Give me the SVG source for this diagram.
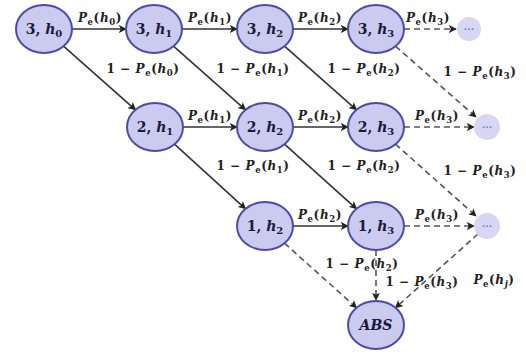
<svg xmlns="http://www.w3.org/2000/svg" width="526" height="354" viewBox="0 0 526 354">
<style>
.node ellipse{fill:#cbcbef;stroke:#4b4ba8;stroke-width:2}
.dots circle{fill:#d6d6f5}
.dots text{font-family:"DejaVu Serif",serif;font-size:10px;font-weight:bold;fill:#7a7ac8;text-anchor:middle}
.nl{font-family:"DejaVu Serif",serif;font-size:14px;font-weight:bold;fill:#1a1a3a;text-anchor:middle}
.el{font-family:"DejaVu Serif",serif;font-size:12px;font-weight:bold;fill:#222;text-anchor:middle;letter-spacing:0.6px}
.i{font-style:italic}
.s{font-size:8.5px}
.solid{stroke:#333;stroke-width:1.6;fill:none;marker-end:url(#ah)}
.dash{stroke:#555;stroke-width:1.6;fill:none;stroke-dasharray:6 4;marker-end:url(#ah)}
</style>
<defs>
<marker id="ah" viewBox="0 0 10 10" refX="9" refY="5" markerWidth="8" markerHeight="8" markerUnits="userSpaceOnUse" orient="auto">
<path d="M0,0 L10,5 L0,10 L2.5,5 z" fill="#222"/>
</marker>
</defs>
<rect width="526" height="354" fill="#ffffff"/>
<g id="connectors">
<line class="solid" x1="72" y1="29" x2="126" y2="29"/>
<line class="solid" x1="182" y1="29" x2="237" y2="29"/>
<line class="solid" x1="293" y1="29" x2="348" y2="29"/>
<line class="dash" x1="404" y1="29" x2="456" y2="29"/>
<line class="solid" x1="183" y1="127" x2="237" y2="127"/>
<line class="solid" x1="293" y1="127" x2="348" y2="127"/>
<line class="dash" x1="404" y1="127" x2="474" y2="127"/>
<line class="solid" x1="293" y1="226" x2="348" y2="226"/>
<line class="dash" x1="404" y1="226" x2="474" y2="226"/>
<line class="solid" x1="63.5" y1="46.2" x2="135.5" y2="109.8"/>
<line class="solid" x1="173.5" y1="46.2" x2="245.5" y2="109.8"/>
<line class="solid" x1="284.5" y1="46.2" x2="356.5" y2="109.8"/>
<line class="dash" x1="395.5" y1="46.2" x2="476" y2="117"/>
<line class="solid" x1="174.5" y1="144.2" x2="245.5" y2="208.8"/>
<line class="solid" x1="284.5" y1="144.2" x2="356.5" y2="208.8"/>
<line class="dash" x1="395.5" y1="144.2" x2="476" y2="216"/>
<line class="dash" x1="284.5" y1="243.2" x2="356.5" y2="307.8"/>
<line class="dash" x1="376" y1="250" x2="376" y2="300"/>
<line class="dash" x1="478" y1="234" x2="395.5" y2="307.8"/>
</g>
<g id="labels">
<text class="el" x="100" y="22"><tspan class="i">P</tspan><tspan class="s" dy="2.5">e</tspan><tspan dy="-2.5">(</tspan><tspan class="i">h</tspan><tspan class="s" dy="2.5">0</tspan><tspan dy="-2.5">)</tspan></text>
<text class="el" x="210" y="22"><tspan class="i">P</tspan><tspan class="s" dy="2.5">e</tspan><tspan dy="-2.5">(</tspan><tspan class="i">h</tspan><tspan class="s" dy="2.5">1</tspan><tspan dy="-2.5">)</tspan></text>
<text class="el" x="320" y="22"><tspan class="i">P</tspan><tspan class="s" dy="2.5">e</tspan><tspan dy="-2.5">(</tspan><tspan class="i">h</tspan><tspan class="s" dy="2.5">2</tspan><tspan dy="-2.5">)</tspan></text>
<text class="el" x="428" y="22"><tspan class="i">P</tspan><tspan class="s" dy="2.5">e</tspan><tspan dy="-2.5">(</tspan><tspan class="i">h</tspan><tspan class="s" dy="2.5">3</tspan><tspan dy="-2.5">)</tspan></text>
<text class="el" x="210" y="120"><tspan class="i">P</tspan><tspan class="s" dy="2.5">e</tspan><tspan dy="-2.5">(</tspan><tspan class="i">h</tspan><tspan class="s" dy="2.5">1</tspan><tspan dy="-2.5">)</tspan></text>
<text class="el" x="320" y="120"><tspan class="i">P</tspan><tspan class="s" dy="2.5">e</tspan><tspan dy="-2.5">(</tspan><tspan class="i">h</tspan><tspan class="s" dy="2.5">2</tspan><tspan dy="-2.5">)</tspan></text>
<text class="el" x="437" y="120"><tspan class="i">P</tspan><tspan class="s" dy="2.5">e</tspan><tspan dy="-2.5">(</tspan><tspan class="i">h</tspan><tspan class="s" dy="2.5">3</tspan><tspan dy="-2.5">)</tspan></text>
<text class="el" x="320" y="219"><tspan class="i">P</tspan><tspan class="s" dy="2.5">e</tspan><tspan dy="-2.5">(</tspan><tspan class="i">h</tspan><tspan class="s" dy="2.5">2</tspan><tspan dy="-2.5">)</tspan></text>
<text class="el" x="437" y="219"><tspan class="i">P</tspan><tspan class="s" dy="2.5">e</tspan><tspan dy="-2.5">(</tspan><tspan class="i">h</tspan><tspan class="s" dy="2.5">3</tspan><tspan dy="-2.5">)</tspan></text>
<text class="el" x="143" y="73">1 − <tspan class="i">P</tspan><tspan class="s" dy="2.5">e</tspan><tspan dy="-2.5">(</tspan><tspan class="i">h</tspan><tspan class="s" dy="2.5">0</tspan><tspan dy="-2.5">)</tspan></text>
<text class="el" x="253" y="73">1 − <tspan class="i">P</tspan><tspan class="s" dy="2.5">e</tspan><tspan dy="-2.5">(</tspan><tspan class="i">h</tspan><tspan class="s" dy="2.5">1</tspan><tspan dy="-2.5">)</tspan></text>
<text class="el" x="364" y="73">1 − <tspan class="i">P</tspan><tspan class="s" dy="2.5">e</tspan><tspan dy="-2.5">(</tspan><tspan class="i">h</tspan><tspan class="s" dy="2.5">2</tspan><tspan dy="-2.5">)</tspan></text>
<text class="el" x="480" y="76">1 − <tspan class="i">P</tspan><tspan class="s" dy="2.5">e</tspan><tspan dy="-2.5">(</tspan><tspan class="i">h</tspan><tspan class="s" dy="2.5">3</tspan><tspan dy="-2.5">)</tspan></text>
<text class="el" x="253" y="170">1 − <tspan class="i">P</tspan><tspan class="s" dy="2.5">e</tspan><tspan dy="-2.5">(</tspan><tspan class="i">h</tspan><tspan class="s" dy="2.5">1</tspan><tspan dy="-2.5">)</tspan></text>
<text class="el" x="364" y="170">1 − <tspan class="i">P</tspan><tspan class="s" dy="2.5">e</tspan><tspan dy="-2.5">(</tspan><tspan class="i">h</tspan><tspan class="s" dy="2.5">2</tspan><tspan dy="-2.5">)</tspan></text>
<text class="el" x="480" y="175">1 − <tspan class="i">P</tspan><tspan class="s" dy="2.5">e</tspan><tspan dy="-2.5">(</tspan><tspan class="i">h</tspan><tspan class="s" dy="2.5">3</tspan><tspan dy="-2.5">)</tspan></text>
<text class="el" x="362" y="268">1 − <tspan class="i">P</tspan><tspan class="s" dy="2.5">e</tspan><tspan dy="-2.5">(</tspan><tspan class="i">h</tspan><tspan class="s" dy="2.5">2</tspan><tspan dy="-2.5">)</tspan></text>
<text class="el" x="422" y="286">1 − <tspan class="i">P</tspan><tspan class="s" dy="2.5">e</tspan><tspan dy="-2.5">(</tspan><tspan class="i">h</tspan><tspan class="s" dy="2.5">3</tspan><tspan dy="-2.5">)</tspan></text>
<text class="el" x="494" y="284"><tspan class="i">P</tspan><tspan class="s" dy="2.5">e</tspan><tspan dy="-2.5">(</tspan><tspan class="i">h</tspan><tspan class="s i" dy="2.5">j</tspan><tspan dy="-2.5">)</tspan></text>
</g>
<g id="n3h0" class="node"><ellipse cx="44" cy="29" rx="28" ry="24"/><text class="nl" x="44" y="34">3, <tspan class="i">h</tspan><tspan font-size="10" dy="3">0</tspan></text></g>
<g id="n3h1" class="node"><ellipse cx="154" cy="29" rx="28" ry="24"/><text class="nl" x="154" y="34">3, <tspan class="i">h</tspan><tspan font-size="10" dy="3">1</tspan></text></g>
<g id="n3h2" class="node"><ellipse cx="265" cy="29" rx="28" ry="24"/><text class="nl" x="265" y="34">3, <tspan class="i">h</tspan><tspan font-size="10" dy="3">2</tspan></text></g>
<g id="n3h3" class="node"><ellipse cx="376" cy="29" rx="28" ry="24"/><text class="nl" x="376" y="34">3, <tspan class="i">h</tspan><tspan font-size="10" dy="3">3</tspan></text></g>
<g id="d1" class="dots"><circle cx="469" cy="29" r="12"/><text x="469" y="32">···</text></g>
<g id="n2h1" class="node"><ellipse cx="155" cy="127" rx="28" ry="24"/><text class="nl" x="155" y="132">2, <tspan class="i">h</tspan><tspan font-size="10" dy="3">1</tspan></text></g>
<g id="n2h2" class="node"><ellipse cx="265" cy="127" rx="28" ry="24"/><text class="nl" x="265" y="132">2, <tspan class="i">h</tspan><tspan font-size="10" dy="3">2</tspan></text></g>
<g id="n2h3" class="node"><ellipse cx="376" cy="127" rx="28" ry="24"/><text class="nl" x="376" y="132">2, <tspan class="i">h</tspan><tspan font-size="10" dy="3">3</tspan></text></g>
<g id="d2" class="dots"><circle cx="487" cy="127" r="13"/><text x="487" y="130">···</text></g>
<g id="n1h2" class="node"><ellipse cx="265" cy="226" rx="28" ry="24"/><text class="nl" x="265" y="231">1, <tspan class="i">h</tspan><tspan font-size="10" dy="3">2</tspan></text></g>
<g id="n1h3" class="node"><ellipse cx="376" cy="226" rx="28" ry="24"/><text class="nl" x="376" y="231">1, <tspan class="i">h</tspan><tspan font-size="10" dy="3">3</tspan></text></g>
<g id="d3" class="dots"><circle cx="487" cy="226" r="13"/><text x="487" y="229">···</text></g>
<g id="abs" class="node"><ellipse cx="376" cy="325" rx="28" ry="24"/><text class="nl i" x="376" y="330">ABS</text></g>
</svg>
